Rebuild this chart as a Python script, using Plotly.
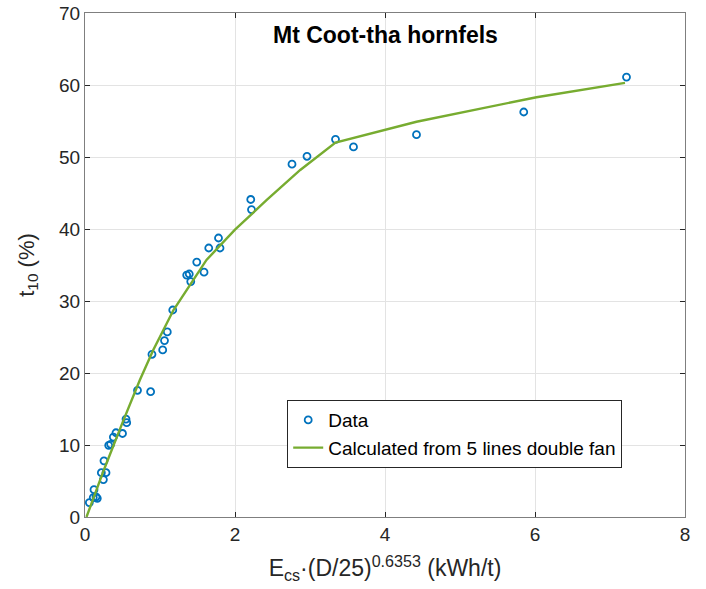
import plotly.graph_objects as go

# Measured data
data_x = [0.058, 0.11, 0.12, 0.147, 0.164, 0.218, 0.245, 0.253, 0.28, 0.316,
          0.342, 0.378, 0.413, 0.50, 0.547, 0.556, 0.70, 0.875, 0.893, 1.036,
          1.06, 1.097, 1.17, 1.356, 1.39, 1.41, 1.49, 1.587, 1.65, 1.78,
          1.80, 2.21, 2.22, 2.76, 2.96, 3.34, 3.58, 4.42, 5.85, 7.22]
data_y = [2.0, 2.7, 3.8, 2.8, 2.6, 6.15, 5.2, 7.8, 6.15, 9.95,
          10.1, 11.1, 11.7, 11.6, 13.6, 13.1, 17.6, 17.4, 22.6, 23.2,
          24.5, 25.7, 28.75, 33.6, 33.75, 32.7, 35.4, 34.0, 37.36, 38.75,
          37.36, 44.1, 42.7, 49.0, 50.1, 52.45, 51.4, 53.1, 56.25, 61.1]

# Calculated curve (5 lines double fan)
calc_x = [0.02, 0.25, 0.5, 0.73, 0.91, 1.18, 1.62, 2.0, 2.42, 2.87, 3.34, 4.42, 6.02, 7.2]
calc_y = [0.0, 6.5, 13.1, 19.0, 23.2, 28.75, 35.7, 39.9, 44.0, 48.2, 52.0, 54.9, 58.3, 60.3]

x_ticks = [0, 2, 4, 6, 8]
y_ticks = [0, 10, 20, 30, 40, 50, 60, 70]

font_family = "Liberation Sans, Arial, sans-serif"
text_col = "#262626"

fig = go.Figure()
fig.add_trace(go.Scatter(
    x=data_x, y=data_y, mode="markers", name="Data",
    marker=dict(symbol="circle-open", size=7, color="#0072BD",
                line=dict(width=1.8, color="#0072BD")),
))
fig.add_trace(go.Scatter(
    x=calc_x, y=calc_y, mode="lines", name="Calculated from 5 lines double fan",
    line=dict(color="#77AC30", width=2.4),
))

axis_common = dict(
    showline=True, linecolor="#7f7f7f", linewidth=1, mirror="allticks",
    ticks="inside", ticklen=5, tickcolor=text_col, automargin=False,
    showgrid=True, gridcolor="#e3e3e3", gridwidth=1, zeroline=False,
    tickfont=dict(family=font_family, size=19, color=text_col),
)

fig.update_layout(
    width=706, height=589,
    margin=dict(l=85, r=21, t=13, b=72),
    paper_bgcolor="white", plot_bgcolor="white",
    font=dict(family=font_family, color=text_col),
    xaxis=dict(range=[0, 8], tickvals=x_ticks, **axis_common,
               title=dict(text="E<sub>cs</sub>·(D/25)<sup>0.6353</sup> (kWh/t)",
                          font=dict(family=font_family, size=23, color=text_col),
                          standoff=16)),
    yaxis=dict(range=[0, 70], tickvals=y_ticks, **axis_common,
               title=dict(text="t<sub>10</sub> (%)",
                          font=dict(family=font_family, size=22, color=text_col),
                          standoff=18)),
    legend=dict(x=0.337, y=0.232, xanchor="left", yanchor="top",
                bgcolor="white", bordercolor="#262626", borderwidth=1,
                font=dict(family=font_family, size=19, color="black"),
                tracegroupgap=0, itemwidth=30),
    showlegend=True,
    annotations=[dict(text="<b>Mt Coot-tha hornfels</b>", x=0.5, y=0.956,
                      xref="paper", yref="paper", showarrow=False,
                      yanchor="middle", xanchor="center",
                      font=dict(family=font_family, size=23, color="black"))],
)

fig.write_html("out.html")
